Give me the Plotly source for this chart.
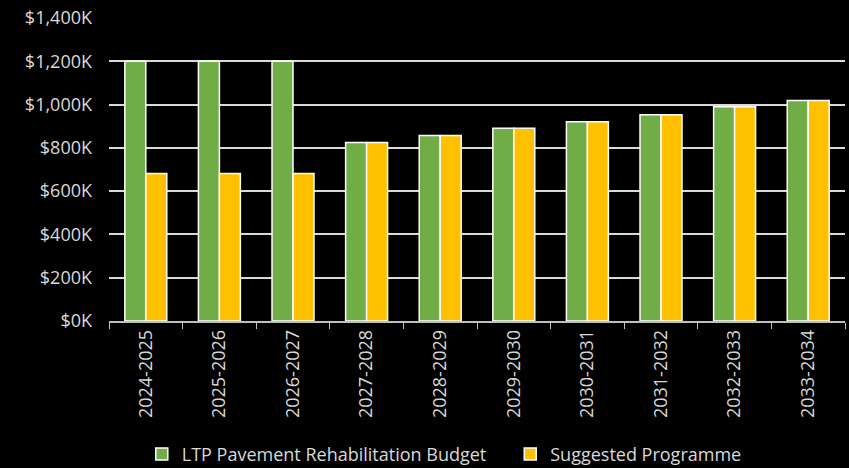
import plotly.graph_objects as go

categories = ["2024-2025", "2025-2026", "2026-2027", "2027-2028", "2028-2029",
              "2029-2030", "2030-2031", "2031-2032", "2032-2033", "2033-2034"]
ltp_budget = [1200, 1200, 1200, 825, 857, 891, 921, 953, 990, 1019]
suggested = [681, 681, 681, 825, 857, 891, 921, 953, 990, 1019]
tick_vals = [0, 200, 400, 600, 800, 1000, 1200, 1400]
tick_text = ["$0K", "$200K", "$400K", "$600K", "$800K", "$1,000K", "$1,200K", "$1,400K"]

FONT = "Open Sans"
TXT = "#D9D9D9"

fig = go.Figure()
fig.add_trace(go.Bar(x=categories, y=ltp_budget, name="LTP Pavement Rehabilitation Budget",
                     legend="legend",
                     marker=dict(color="#70AD47", line=dict(color="white", width=1.5))))
fig.add_trace(go.Bar(x=categories, y=suggested, name="Suggested Programme",
                     legend="legend2",
                     marker=dict(color="#FFC000", line=dict(color="white", width=1.5))))

leg_common = dict(orientation="h", xanchor="left", xref="container",
                  yref="paper", y=-0.44, yanchor="middle", bgcolor="rgba(0,0,0,0)",
                  font=dict(family=FONT, size=18, color=TXT), itemwidth=30)

fig.update_layout(
    width=849, height=468,
    paper_bgcolor="black", plot_bgcolor="black",
    margin=dict(l=109, r=4, t=18, b=147, autoexpand=False),
    barmode="group", bargap=0.43, bargroupgap=0.0,
    font=dict(family=FONT, size=16, color=TXT),
    showlegend=True,
    legend=dict(x=0.167, **leg_common),
    legend2=dict(x=0.601, **leg_common),
)
fig.update_xaxes(tickangle=-90, showgrid=False, showline=True, linecolor="#BFBFBF",
                 linewidth=1.5, ticks="outside", ticklen=6, tickcolor="#BFBFBF",
                 tickson="boundaries", tickfont=dict(family=FONT, size=18, color=TXT))
fig.update_yaxes(range=[0, 1400], tickvals=tick_vals, ticktext=tick_text,
                 showgrid=True, gridcolor="#D9D9D9", gridwidth=1.5, zeroline=False,
                 ticks="", ticklabelstandoff=16,
                 tickfont=dict(family=FONT, size=18, color=TXT))

fig.write_html("out.html")
